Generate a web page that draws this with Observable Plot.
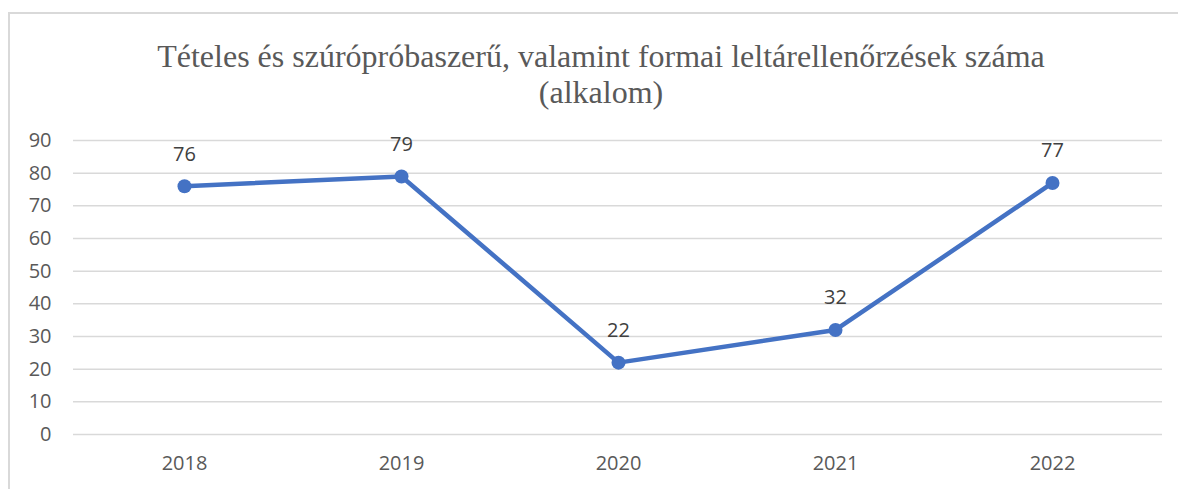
<!DOCTYPE html>
<html>
<head>
<meta charset="utf-8">
<script src="https://cdn.jsdelivr.net/npm/d3@7"></script>
<script src="https://cdn.jsdelivr.net/npm/@observablehq/plot@0.6"></script>
<style>
  html, body { margin: 0; padding: 0; background: #fff; }
  #wrap { position: relative; width: 1178px; height: 489px; overflow: hidden; }
  #frame { position: absolute; left: 8px; top: 12px; width: 1300px; height: 600px;
           border-left: 2px solid #d9d9d9; border-top: 2px solid #d9d9d9; }
  #title { position: absolute; left: 10px; top: 38px; width: 1182px; text-align: center;
           font-family: "Liberation Serif", "DejaVu Serif", serif; font-size: 32px;
           line-height: 36px; color: #595959; }
  #chart { position: absolute; left: 0; top: 120px; }
</style>
</head>
<body>
<div id="wrap">
  <div id="frame"></div>
  <div id="title">Tételes és szúrópróbaszerű, valamint formai leltárellenőrzések száma<br>(alkalom)</div>
  <div id="chart"></div>
</div>
<script>
const years = ["2018", "2019", "2020", "2021", "2022"];
const counts = [76, 79, 22, 32, 77];
const yTicks = [0, 10, 20, 30, 40, 50, 60, 70, 80, 90];

const data = years.map((y, i) => ({year: y, value: counts[i]}));
const blue = "#4472C4";
const font = "'Open Sans', 'Noto Sans', sans-serif";

const plot = Plot.plot({
  width: 1178,
  height: 369,
  marginLeft: 73,
  marginRight: 16,
  marginTop: 20,
  marginBottom: 55,
  style: {fontFamily: font, fontSize: "20px", color: "#595959", background: "transparent"},
  x: {type: "point", domain: years, padding: 0.5, label: null, tickSize: 0, tickPadding: 22},
  y: {domain: [0, 90], ticks: yTicks, label: null, tickSize: 0, tickPadding: 22},
  marks: [
    Plot.ruleY(yTicks, {stroke: "#d9d9d9", strokeWidth: 1.5}),
    Plot.axisX({tickSize: 0, tickPadding: 21, fill: "#595959", fontSize: 20, label: null}),
    Plot.axisY({ticks: yTicks, tickSize: 0, tickPadding: 22, fill: "#595959", fontSize: 20, label: null}),
    Plot.line(data, {x: "year", y: "value", stroke: blue, strokeWidth: 4.5}),
    Plot.dot(data, {x: "year", y: "value", fill: blue, r: 7, stroke: null}),
    Plot.text(data, {x: "year", y: "value", text: d => String(d.value), dy: -32,
      fill: "#404040", fontSize: 20})
  ]
});
document.getElementById("chart").appendChild(plot);
</script>
</body>
</html>
